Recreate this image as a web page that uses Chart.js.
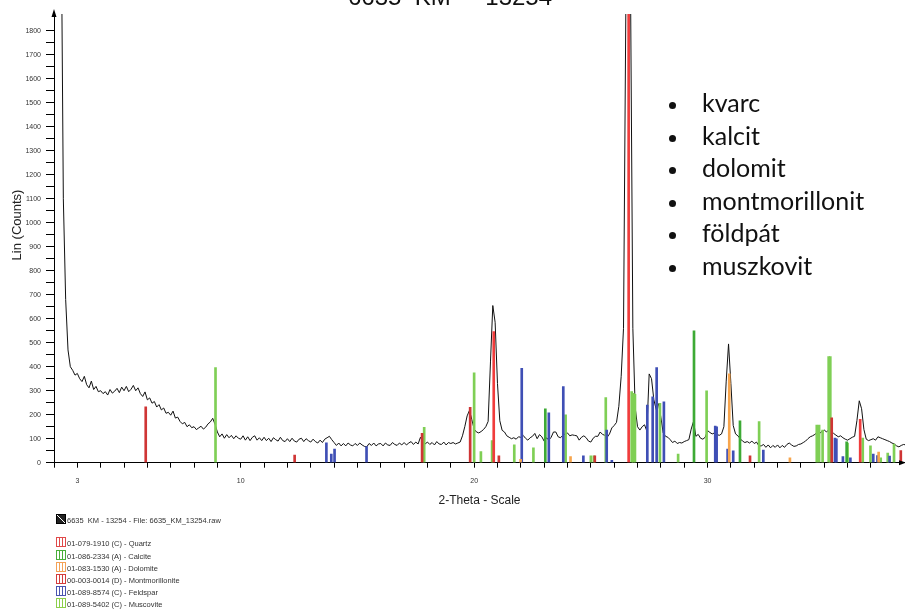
<!DOCTYPE html>
<html>
<head>
<meta charset="utf-8">
<script src="https://cdn.jsdelivr.net/npm/chart.js@4"></script>
<style>
  html, body { margin: 0; padding: 0; background: #fff; }
  #wrap { position: relative; width: 905px; height: 610px; overflow: hidden; }
  #wrap canvas { position: absolute; left: 0; top: 0; width: 905px; height: 610px; }
  .phases { position: absolute; left: 660px; top: 86px; font-family: Lato, sans-serif; font-size: 25px; line-height: 32.5px; color: #111; }
  .phases div { position: relative; padding-left: 42px; white-space: nowrap; }
  .phases .dot { position: absolute; left: 8.5px; top: 16px; width: 7px; height: 7px; border-radius: 50%; background: #111; }
  .leg { position: absolute; left: 56px; font: 7.5px "Liberation Sans", Arial, sans-serif; color: #333; white-space: pre; line-height: 10px; }
  .leg i { display: inline-block; width: 8px; height: 8px; vertical-align: -1px; margin-right: 1px; border: 1px solid; box-sizing: content-box; }
</style>
</head>
<body>
<div id="wrap">
  <canvas id="xrd" width="905" height="610"></canvas>
  <div class="phases">
    <div><span class="dot"></span>kvarc</div>
    <div><span class="dot"></span>kalcit</div>
    <div><span class="dot"></span>dolomit</div>
    <div><span class="dot"></span>montmorillonit</div>
    <div><span class="dot"></span>földpát</div>
    <div><span class="dot"></span>muszkovit</div>
  </div>
  <div class="leg" style="top:514px"><i style="border-color:#000;background:#222 linear-gradient(45deg,transparent 45%,#fff 45%,#fff 55%,transparent 55%)"></i>6635  KM - 13254 - File: 6635_KM_13254.raw</div>
  <div class="leg" style="top:537px"><i style="border-color:#e04a4a;background:repeating-linear-gradient(90deg,#fff 0 2px,#e04a4a 2px 3px)"></i>01-079-1910 (C) - Quartz</div>
  <div class="leg" style="top:550px"><i style="border-color:#4aae3a;background:repeating-linear-gradient(90deg,#fff 0 2px,#4aae3a 2px 3px)"></i>01-086-2334 (A) - Calcite</div>
  <div class="leg" style="top:562px"><i style="border-color:#f4a256;background:repeating-linear-gradient(90deg,#fff 0 2px,#f4a256 2px 3px)"></i>01-083-1530 (A) - Dolomite</div>
  <div class="leg" style="top:574px"><i style="border-color:#d43c3c;background:repeating-linear-gradient(90deg,#fff 0 2px,#d43c3c 2px 3px)"></i>00-003-0014 (D) - Montmorillonite</div>
  <div class="leg" style="top:586px"><i style="border-color:#4a55b0;background:repeating-linear-gradient(90deg,#fff 0 2px,#4a55b0 2px 3px)"></i>01-089-8574 (C) - Feldspar</div>
  <div class="leg" style="top:598px"><i style="border-color:#8ccf4a;background:repeating-linear-gradient(90deg,#fff 0 2px,#8ccf4a 2px 3px)"></i>01-089-5402 (C) - Muscovite</div>
</div>
<script>
// measured scan, 2-theta from 2.3 in steps of 0.1
const scanStart = 2.3, scanStep = 0.1;
const counts = [
  2400, 1100, 680, 470, 400, 385, 365,
  372, 350, 338, 360, 325, 312, 340, 305, 318, 296,
  300, 288, 296, 282, 305, 290, 298, 310, 292, 315,
  300, 318, 296, 306, 322, 300, 312, 288, 276, 295,
  262, 270, 248, 255, 232, 242, 220, 228, 206, 210,
  198, 215, 186, 190, 172, 162, 168, 150, 158, 146,
  150, 138, 145, 152, 140, 148, 162, 170, 185, 160,
  128, 108, 120, 102, 117, 104, 114, 100, 112, 102,
  98, 112, 94, 108, 92, 106, 112, 94, 104, 92,
  106, 92, 102, 88, 104, 96, 90, 106, 92, 88,
  100, 88, 102, 90, 86, 98, 102, 88, 100, 92,
  86, 98, 88, 82, 94, 84, 98, 104, 110, 96,
  84, 72, 82, 70, 80, 70, 82, 74, 70, 80,
  72, 82, 74, 68, 66, 80, 72, 82, 70, 78,
  80, 70, 82, 74, 72, 84, 76, 72, 82, 74,
  84, 74, 82, 88, 76, 86, 78, 106, 90, 78,
  86, 76, 84, 74, 88, 78, 76, 86, 74, 84,
  80, 84, 78, 82, 86, 112, 150, 195, 218, 180,
  140, 128, 124, 130, 138, 150, 172, 420, 655, 585,
  330, 175, 135, 128, 112, 106, 100, 104, 98, 108,
  106, 114, 102, 94, 104, 110, 122, 100, 117, 108,
  90, 104, 94, 106, 128, 128, 108, 104, 114, 120,
  124, 112, 116, 114, 112, 94, 106, 112, 104, 90,
  86, 102, 110, 110, 128, 118, 114, 106, 120, 145,
  155, 168, 235, 360, 560, 1900, 2700, 2000, 560, 230,
  150, 136, 150, 158, 132, 370, 350, 262, 222, 246,
  190, 124, 110, 106, 96, 84, 90, 80, 84, 82,
  88, 92, 96, 140, 172, 110, 118, 102, 98, 106,
  134, 126, 120, 124, 118, 114, 120, 150, 340, 495,
  330, 155, 120, 112, 100, 90, 84, 88, 82, 90,
  80, 86, 70, 70, 76, 64, 74, 62, 72, 64,
  74, 62, 72, 64, 76, 82, 74, 68, 70, 76,
  78, 84, 90, 100, 108, 112, 118, 126, 122, 130,
  136, 128, 138, 132, 122, 115, 108, 112, 104, 98,
  94, 100, 106, 110, 175, 258, 225, 138, 98, 92,
  96, 100, 94, 108, 104, 100, 96, 92, 88, 82,
  78, 70, 66, 72, 76, 74
];

// reference stick patterns (2-theta, counts)
const quartzPos = [20.84, 26.62, 36.54];
const quartzInt = [546, 2480, 181];
const calcitePos = [23.05, 29.42, 31.39, 35.96];
const calciteInt = [225, 550, 175, 87];
const dolomitePos = [21.99, 24.13, 30.93, 33.53, 37.33];
const dolomiteInt = [14, 25, 370, 20, 44];
const montPos = [5.93, 12.31, 17.77, 19.83, 21.06, 25.17, 31.82, 35.32, 38.28];
const montInt = [233, 32, 122, 231, 29, 29, 29, 187, 50];
const feldsparPos = [13.67, 13.88, 14.02, 15.39, 22.04, 23.2, 23.82, 24.68, 25.68, 25.9,
  27.42, 27.65, 27.82, 28.13, 30.33, 30.39, 30.86, 31.1, 32.39, 35.46, 35.52, 35.8, 36.12,
  37.1, 37.28, 37.8];
const feldsparInt = [83, 36, 57, 67, 393, 208, 317, 29, 136, 10,
  240, 275, 396, 254, 153, 150, 57, 49, 53, 103, 100, 25, 20,
  36, 30, 28];
const muscovitePos = [8.92, 17.86, 20.0, 20.29, 20.77, 21.72, 22.54, 23.92, 25.0, 25.13,
  25.64, 26.75, 26.82, 26.89, 27.96, 28.74, 29.96, 32.21, 34.68, 34.78, 34.93, 35.19, 35.26,
  36.0, 36.65, 36.98, 37.42, 37.72, 37.99];
const muscoviteInt = [396, 147, 375, 46, 92, 74, 62, 199, 29, 29,
  271, 296, 289, 285, 247, 36, 300, 171, 157, 157, 136, 442, 442,
  82, 103, 70, 20, 40, 78];

const xTickLabels = [3, 10, 20, 30];
const chartTitle = '6635  KM  -  13254';

const sticks = (pos, val) => pos.map((p, i) => ({ x: p, y: val[i] }));
const stickSet = (label, pos, val, color) => ({
  type: 'bar', label, data: sticks(pos, val), backgroundColor: color,
  barThickness: 2, maxBarThickness: 2, grouped: false, borderWidth: 0, order: 0
});

const fontFam = '"Liberation Sans", Arial, sans-serif';

const decor = {
  id: 'decor',
  afterDraw(chart) {
    const { ctx, chartArea: a } = chart;
    ctx.save();
    ctx.fillStyle = '#000';
    ctx.beginPath();
    ctx.moveTo(a.left, a.top - 5);
    ctx.lineTo(a.left - 2.5, a.top + 3);
    ctx.lineTo(a.left + 2.5, a.top + 3);
    ctx.fill();
    ctx.beginPath();
    ctx.moveTo(a.right + 1, a.bottom);
    ctx.lineTo(a.right - 6, a.bottom - 2.5);
    ctx.lineTo(a.right - 6, a.bottom + 2.5);
    ctx.fill();
    ctx.fillStyle = '#111';
    ctx.font = '24px ' + fontFam;
    ctx.textAlign = 'center';
    ctx.textBaseline = 'alphabetic';
    ctx.fillText(chartTitle, 450, 5);
    ctx.translate(17, 225);
    ctx.rotate(-Math.PI / 2);
    ctx.font = '13px ' + fontFam;
    ctx.textBaseline = 'middle';
    ctx.fillStyle = '#222';
    ctx.fillText('Lin (Counts)', 0, 0);
    ctx.restore();
  }
};

new Chart(document.getElementById('xrd'), {
  type: 'line',
  data: {
    datasets: [
      {
        label: '6635 KM - 13254',
        data: counts.map((c, i) => ({ x: +(scanStart + i * scanStep).toFixed(2), y: c })),
        borderColor: '#111', borderWidth: 1, pointRadius: 0, tension: 0, order: 1
      },
      stickSet('Quartz', quartzPos, quartzInt, '#f03c3c'),
      stickSet('Calcite', calcitePos, calciteInt, '#3daa35'),
      stickSet('Dolomite', dolomitePos, dolomiteInt, '#f7a54d'),
      stickSet('Montmorillonite', montPos, montInt, '#cf3535'),
      stickSet('Feldspar', feldsparPos, feldsparInt, '#3f4fb5'),
      stickSet('Muscovite', muscovitePos, muscoviteInt, '#7fcf55')
    ]
  },
  options: {
    responsive: false,
    animation: false,
    events: [],
    layout: { padding: { top: 14, left: 0, right: 0, bottom: 0 } },
    plugins: { legend: { display: false }, tooltip: { enabled: false } },
    scales: {
      x: {
        type: 'linear', min: 2, max: 38.46, offset: false,
        afterFit: s => { s.height = 147.3; },
        afterBuildTicks: s => { s.ticks = s.ticks.filter(t => Number.isInteger(t.value)); },
        grid: { display: true, offset: false, drawOnChartArea: false, drawTicks: true, tickLength: 5, color: '#000', tickColor: '#000' },
        border: { display: true, color: '#000', width: 1 },
        ticks: {
          stepSize: 1, autoSkip: false, maxRotation: 0, padding: 9, color: '#333',
          font: { size: 7, family: fontFam },
          callback: v => xTickLabels.includes(v) ? v : ''
        },
        title: { display: true, text: '2-Theta - Scale', color: '#222', font: { size: 12, family: fontFam }, padding: { top: 0, bottom: 101.8 } }
      },
      y: {
        type: 'linear', min: 0, max: 1870,
        afterFit: s => { s.width = 54; },
        afterBuildTicks: s => { s.ticks = s.ticks.filter(t => t.value % 50 === 0); },
        grid: { display: true, drawOnChartArea: false, drawTicks: true, tickLength: 8, color: '#000', tickColor: '#000' },
        border: { display: true, color: '#000', width: 1 },
        ticks: {
          stepSize: 50, autoSkip: false, padding: 5, color: '#333',
          font: { size: 7, family: fontFam },
          callback: v => v % 100 === 0 ? v : ''
        }
      }
    }
  },
  plugins: [decor]
});
</script>
</body>
</html>
